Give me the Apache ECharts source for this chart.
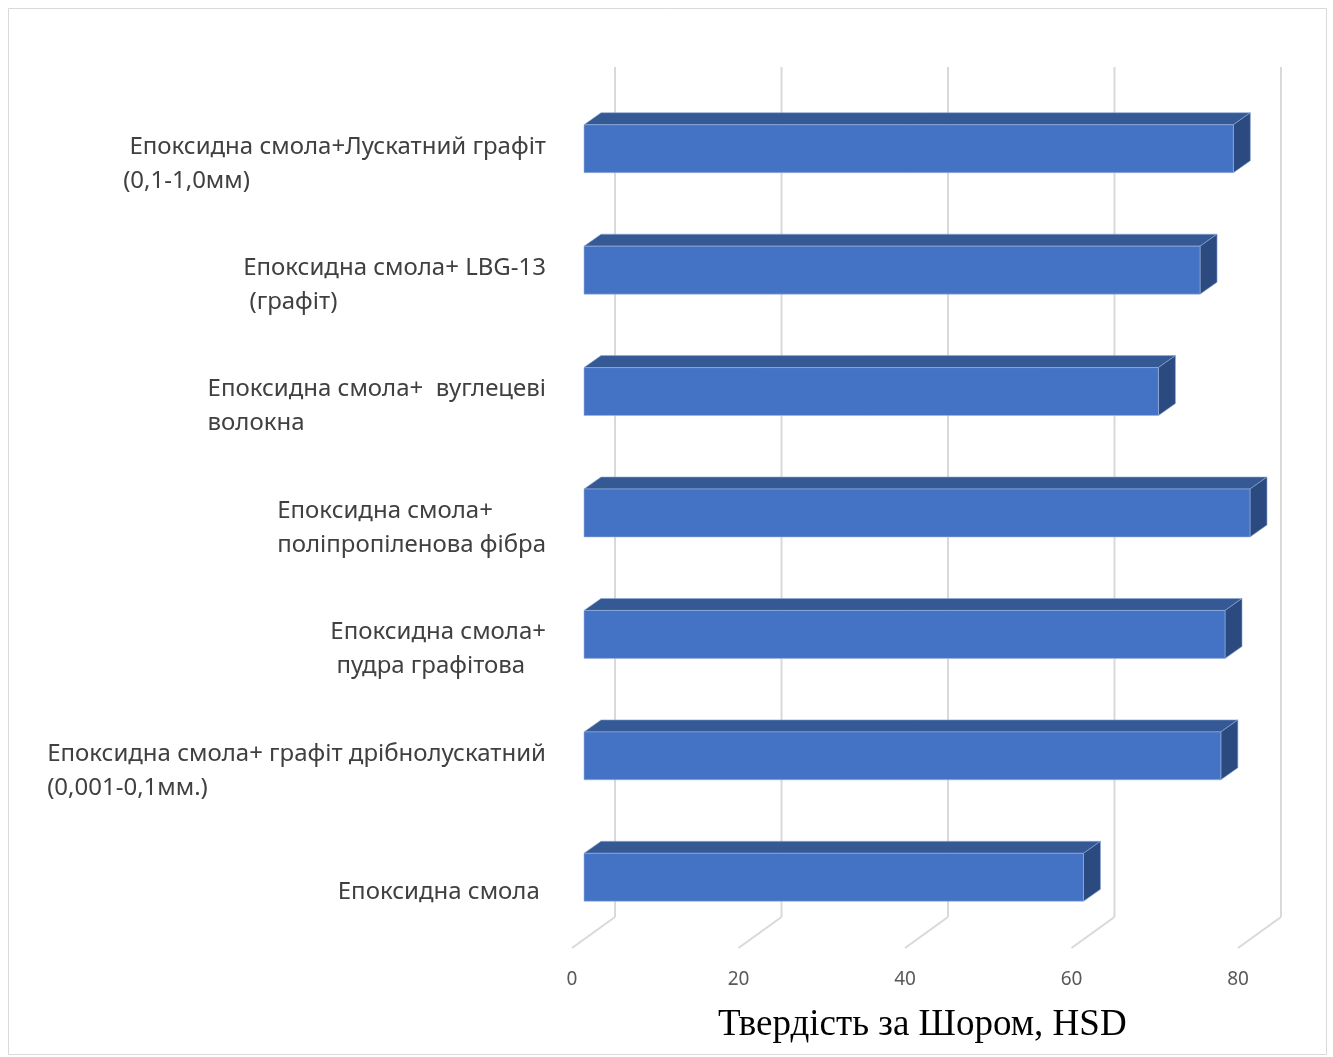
<!DOCTYPE html>
<html>
<head>
<meta charset="utf-8">
<script src="https://cdn.jsdelivr.net/npm/echarts@6/dist/echarts.min.js"></script>
<style>
  html, body { margin: 0; padding: 0; background: #fff; }
  #main { width: 1333px; height: 1057px; }
</style>
</head>
<body>
<div id="main"></div>
<script>
// категорії (зверху вниз) та значення твердості
var categories = [
    ' Епоксидна смола+Лускатний графіт\n(0,1-1,0мм)',
    'Епоксидна смола+ LBG-13\n (графіт)',
    'Епоксидна смола+  вуглецеві\nволокна',
    'Епоксидна смола+\nполіпропіленова фібра',
    'Епоксидна смола+\n пудра графітова',
    'Епоксидна смола+ графіт дрібнолускатний\n(0,001-0,1мм.)',
    'Епоксидна смола '
];
var hardness = [78, 74, 69, 80, 77, 76.5, 60];
var xTicks = [0, 20, 40, 60, 80];
var axisTitle = 'Твердість за Шором, HSD';

// зсув глибини (псевдо 3D як в Excel)
var DX = 43, DY = -31;

var dom = document.getElementById('main');
var myChart = echarts.init(dom);

var barData = hardness.map(function (v, i) { return [v, i]; });
var tickData = xTicks.map(function (v) { return [v]; });

function renderBar(params, api) {
    var v = api.value(0), c = api.value(1);
    var p0 = api.coord([0, c]);
    var p1 = api.coord([v, c]);
    var h = api.size([0, 1])[1] * 0.395;
    var fx = 12, fy = -10, bx = 29, by = -22;
    var x0 = p0[0] + fx, x1 = p1[0] + fx;
    var yt = p0[1] + fy - h / 2, yb = p0[1] + fy + h / 2;
    var ddx = bx - fx, ddy = by - fy;
    return {
        type: 'group',
        children: [
            { // верх
                type: 'polygon',
                shape: { points: [[x0, yt], [x1, yt], [x1 + ddx, yt + ddy], [x0 + ddx, yt + ddy]] },
                style: { fill: '#355994', stroke: '#8fa9d6', lineWidth: 0.6 }
            },
            { // бік
                type: 'polygon',
                shape: { points: [[x1, yt], [x1 + ddx, yt + ddy], [x1 + ddx, yb + ddy], [x1, yb]] },
                style: { fill: '#2b4a80', stroke: '#8fa9d6', lineWidth: 0.6 }
            },
            { // фронт
                type: 'rect',
                shape: { x: x0, y: yt, width: x1 - x0, height: yb - yt },
                style: { fill: '#4472c4', stroke: '#9db4de', lineWidth: 0.6 }
            }
        ]
    };
}

function renderGrid(params, api) {
    var cs = params.coordSys;
    var p = api.coord([api.value(0), 0]);
    var x = p[0];
    var bottom = cs.y + cs.height, top = cs.y;
    var st = { stroke: '#d9d9d9', lineWidth: 2 };
    return {
        type: 'group',
        children: [
            { type: 'line', shape: { x1: x, y1: bottom, x2: x + DX, y2: bottom + DY }, style: st },
            { type: 'line', shape: { x1: x + DX, y1: bottom + DY, x2: x + DX, y2: top + DY }, style: st }
        ]
    };
}

var option = {
    animation: false,
    backgroundColor: '#fff',
    title: {
        text: axisTitle,
        left: 713,
        top: 1002,
        textStyle: { fontFamily: 'Liberation Serif', fontSize: 37, fontWeight: 'normal', color: '#000' }
    },
    graphic: [{
        type: 'rect',
        shape: { x: 8.5, y: 8.5, width: 1318, height: 1046 },
        style: { fill: 'none', stroke: '#d9d9d9', lineWidth: 1 },
        silent: true
    }],
    grid: { left: 572, top: 98, width: 666, height: 850, containLabel: false },
    xAxis: {
        type: 'value',
        min: 0, max: 80, interval: 20,
        axisLine: { show: false },
        axisTick: { show: false },
        splitLine: { show: false },
        axisLabel: { margin: 22, fontSize: 19, color: '#595959', fontFamily: 'Noto Sans' }
    },
    yAxis: {
        type: 'category',
        inverse: true,
        data: categories,
        axisLine: { show: false },
        axisTick: { show: false },
        splitLine: { show: false },
        axisLabel: {
            margin: 26,
            align: 'right',
            padding: [10, 0, 0, 0],
            formatter: function (val) {
                return val.split('\n').map(function (s) { return '{a|' + s + '}'; }).join('\n');
            },
            rich: {
                a: { align: 'left', fontSize: 24, lineHeight: 34, color: '#404040', fontFamily: 'Noto Sans' }
            }
        }
    },
    series: [
        { type: 'custom', name: 'grid', renderItem: renderGrid, data: tickData, encode: { x: 0 }, z: 1, silent: true },
        { type: 'custom', name: 'HSD', renderItem: renderBar, data: barData, encode: { x: 0, y: 1 }, z: 5 }
    ]
};

if (option && typeof option === 'object') {
    myChart.setOption(option, true);
}
</script>
</body>
</html>
